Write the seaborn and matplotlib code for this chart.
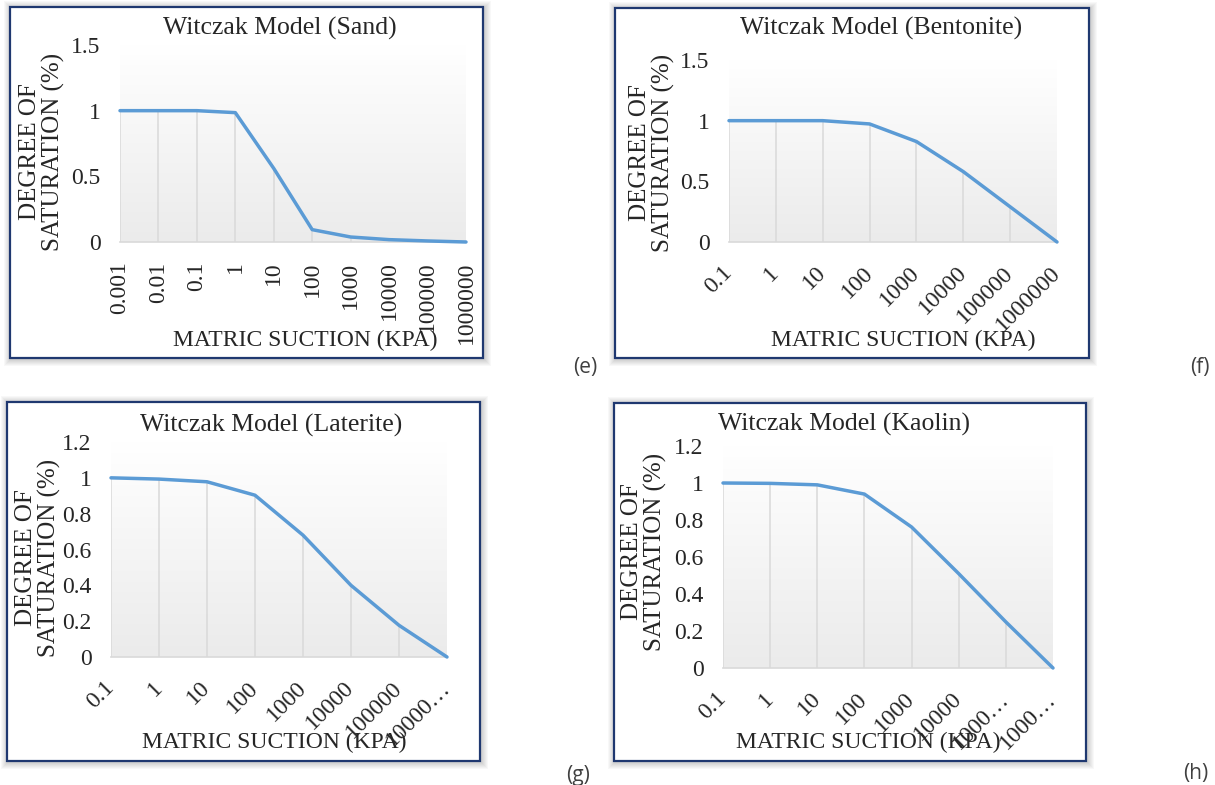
import numpy as np
import pandas as pd
import seaborn as sns
import matplotlib.pyplot as plt
from matplotlib.patches import Rectangle
from matplotlib.colors import LinearSegmentedColormap

# matric suction categories (kPa) and degree of saturation
sand_suction = ['0.001', '0.01', '0.1', '1', '10', '100', '1000', '10000', '100000', '1000000']
sand_sat = [1.0, 1.0, 1.0, 0.985, 0.56, 0.094, 0.038, 0.018, 0.008, 0.0]
sand_ticks = sand_suction

bent_suction = ['0.1', '1', '10', '100', '1000', '10000', '100000', '1000000']
bent_sat = [1.0, 1.0, 1.0, 0.973, 0.828, 0.58, 0.29, 0.0]
bent_ticks = bent_suction

lat_suction = ['0.1', '1', '10', '100', '1000', '10000', '100000', '1000000']
lat_sat = [1.0, 0.993, 0.978, 0.903, 0.68, 0.40, 0.177, 0.0]
lat_ticks = ['0.1', '1', '10', '100', '1000', '10000', '100000', '10000…']

kao_suction = ['0.1', '1', '10', '100', '1000', '10000', '100000', '1000000']
kao_sat = [1.0, 0.998, 0.99, 0.94, 0.762, 0.51, 0.249, 0.0]
kao_ticks = ['0.1', '1', '10', '100', '1000', '10000', '1000…', '1000…']

W, H = 1215, 785
LINE = '#5B9BD5'
DROP = '#D9D9D9'
NAVY = '#1F3870'

sns.set_style('white')
plt.rcParams['font.family'] = ['Liberation Serif', 'DejaVu Serif']

fig = plt.figure(figsize=(W / 100, H / 100), dpi=100)
fig.patch.set_facecolor('white')


def fx(x):
    return x / W


def fy(y):
    return 1 - y / H


def box(l, t, r, b):
    return [fx(l), fy(b), (r - l) / W, (b - t) / H]


grad = LinearSegmentedColormap.from_list('pa', ['#EBEBEB', '#FFFFFF'])


def panel(frame, axbox, suction, sat, ticks, title, title_xy, ylab_xy, xlab_xy,
          tag, tag_xy, ymax, ystep, rot):
    l, t, r, b = frame
    # soft shadow around the chart frame
    for k in range(7, 0, -1):
        fig.patches.append(Rectangle((fx(l - k + 1), fy(b + k + 1)), (r - l + 2 * k) / W,
                                     (b - t + 2 * k) / H, transform=fig.transFigure,
                                     facecolor='black', alpha=0.028, lw=0, zorder=-3))
    fig.patches.append(Rectangle((fx(l), fy(b)), (r - l) / W, (b - t) / H,
                                 transform=fig.transFigure, facecolor='white',
                                 edgecolor=NAVY, lw=1.6, zorder=-1))

    ax = fig.add_axes(box(*axbox))
    ax.set_facecolor('none')
    n = len(suction)
    df = pd.DataFrame({'pos': np.arange(n), 'suction': suction, 'sat': sat})

    ax.imshow(np.linspace(1, 0, 256).reshape(-1, 1), cmap=grad, aspect='auto',
              extent=[0, 1, 0, 1], transform=ax.transAxes, zorder=0)
    ax.vlines(df['pos'], 0, df['sat'], color=DROP, lw=1.1, zorder=1)
    sns.lineplot(data=df, x='pos', y='sat', ax=ax, color=LINE, lw=2.5, zorder=3,
                 solid_capstyle='round', solid_joinstyle='round', clip_on=False)

    ax.set_xlim(0, n - 1)
    ax.set_ylim(0, ymax)
    for s in ['top', 'right', 'left']:
        ax.spines[s].set_visible(False)
    ax.spines['bottom'].set_color(DROP)
    ax.spines['bottom'].set_linewidth(1.2)

    yt = np.arange(0, ymax + 1e-9, ystep)
    ax.set_yticks(yt)
    ax.set_yticklabels([f'{v:g}' for v in yt], fontsize=17)
    ax.tick_params(axis='y', length=0, pad=14)

    ax.set_xticks(df['pos'])
    if rot == 90:
        ax.set_xticklabels(ticks, rotation=90, ha='center', va='top', fontsize=17)
        ax.tick_params(axis='x', length=0, pad=14)
    else:
        ax.set_xticklabels(ticks, rotation=45, ha='right', va='center',
                           rotation_mode='anchor', fontsize=17)
        ax.tick_params(axis='x', length=0, pad=20)
    ax.set_xlabel('')
    ax.set_ylabel('')

    fig.text(fx(title_xy[0]), fy(title_xy[1]), title, ha='center', va='center', fontsize=18.5)
    fig.text(fx(ylab_xy[0]), fy(ylab_xy[1]), 'DEGREE OF\nSATURATION (%)', rotation=90,
             ha='center', va='center', multialignment='center', fontsize=18, linespacing=1.1)
    fig.text(fx(xlab_xy[0]), fy(xlab_xy[1]), 'MATRIC SUCTION (KPA)', ha='center',
             va='center', fontsize=17)
    fig.text(fx(tag_xy[0]), fy(tag_xy[1]), tag, ha='center', va='center', fontsize=15,
             color='#404040', family=['Open Sans', 'DejaVu Sans'])


panel((10, 7, 483, 358), (120, 45, 466, 242), sand_suction, sand_sat, sand_ticks,
      'Witczak Model (Sand)', (280, 28), (42, 152), (305, 340), '(e)', (585, 368), 1.5, 0.5, 90)
panel((615, 8, 1089, 358), (729, 60, 1057, 242), bent_suction, bent_sat, bent_ticks,
      'Witczak Model (Bentonite)', (881, 28), (652, 153), (903, 340), '(f)', (1200, 368), 1.5, 0.5, 45)
panel((7, 402, 480, 761), (111, 442, 447, 657), lat_suction, lat_sat, lat_ticks,
      'Witczak Model (Laterite)', (271, 425), (38, 558), (274, 742), '(g)', (578, 775), 1.2, 0.2, 45)
panel((614, 403, 1086, 761), (723, 446, 1053, 668), kao_suction, kao_sat, kao_ticks,
      'Witczak Model (Kaolin)', (844, 424), (644, 552), (868, 742), '(h)', (1196, 773), 1.2, 0.2, 45)

fig.savefig('out.png', dpi=100, facecolor='white')
